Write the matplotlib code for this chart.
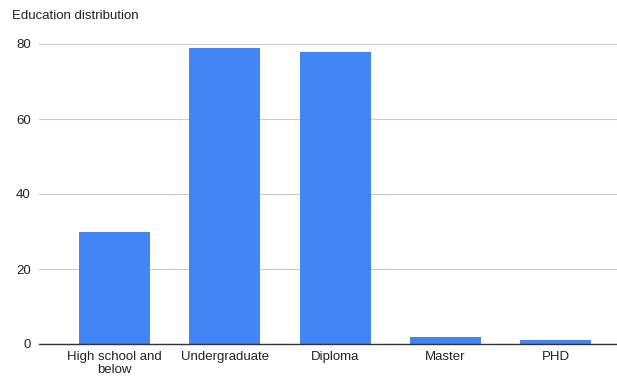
import matplotlib
matplotlib.use('Agg')
import matplotlib.pyplot as plt

categories = ["High school and\nbelow", "Undergraduate", "Diploma", "Master", "PHD"]
values = [30, 79, 78, 2, 1]
y_ticks = [0, 20, 40, 60, 80]

plt.rcParams['font.family'] = ['Liberation Sans', 'DejaVu Sans']

fig = plt.figure(figsize=(6.17, 3.76), dpi=100)
ax = fig.add_axes([39 / 617, 1 - 344 / 376, 1 - 39 / 617, 300 / 376])

x = range(len(categories))
ax.bar(x, values, width=0.645, color='#4285F4', zorder=3)

ax.set_xlim(-0.685, 4.555)
ax.set_ylim(0, 80)
ax.set_yticks(y_ticks)
ax.set_xticks(list(x))
ax.set_xticklabels(categories, fontsize=9.5, color='#222222', linespacing=1.1)
ax.tick_params(axis='y', labelsize=9.5, labelcolor='#222222', length=0, pad=6)
ax.tick_params(axis='x', length=0, pad=5)

ax.grid(axis='y', color='#cccccc', linewidth=0.8, zorder=0)
for side in ['top', 'right', 'left']:
    ax.spines[side].set_visible(False)
ax.spines['bottom'].set_color('#333333')
ax.spines['bottom'].set_linewidth(1.0)
ax.spines['bottom'].set_zorder(4)

fig.text(12 / 617, 1 - 16 / 376, "Education distribution", fontsize=9.5,
         color='#222222', ha='left', va='center')

fig.savefig('out.png', dpi=100)
